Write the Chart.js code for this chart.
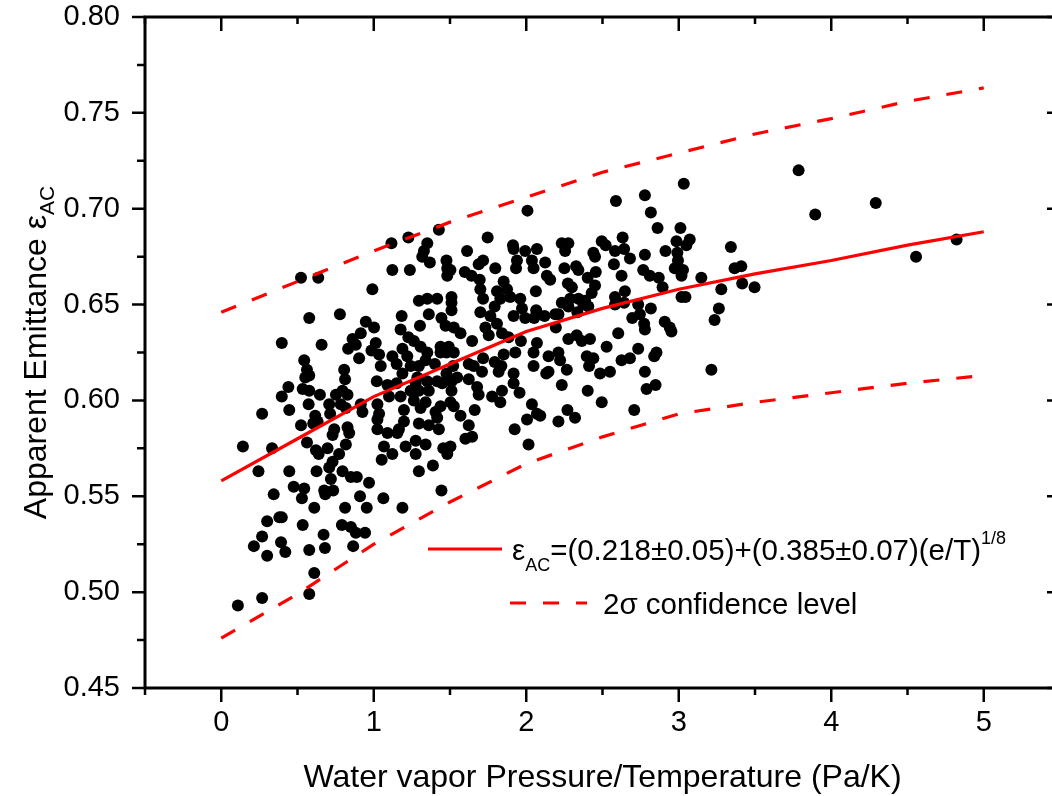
<!DOCTYPE html>
<html>
<head>
<meta charset="utf-8">
<script src="https://cdn.jsdelivr.net/npm/chart.js@4.4.1/dist/chart.umd.min.js"></script>
<style>
  html, body { margin: 0; padding: 0; background: #fff; overflow: hidden; }
  canvas { display: block; }
</style>
</head>
<body>
<canvas id="emitancia_grafica" width="1075" height="796"></canvas>
<script>
// ejes
const xTicks = [0, 1, 2, 3, 4, 5];
const xMenores = [-0.5, 0.5, 1.5, 2.5, 3.5, 4.5, 5.5];
const yTicks = [0.45, 0.50, 0.55, 0.60, 0.65, 0.70, 0.75, 0.80];
const yMenores = [0.475, 0.525, 0.575, 0.625, 0.675, 0.725, 0.775];

// ajuste y bandas de 2 sigma
const ajusteX = [0, 0.5, 1, 1.5, 2, 2.5, 3, 3.5, 4, 4.5, 5];
const ajusteY = [0.558, 0.580, 0.602, 0.619, 0.636, 0.648, 0.658, 0.666, 0.673, 0.681, 0.688];
const limiteSupY = [0.646, 0.662, 0.678, 0.693, 0.706, 0.719, 0.729, 0.739, 0.747, 0.756, 0.763];
const limiteInfY = [0.476, 0.499, 0.525, 0.547, 0.567, 0.581, 0.593, 0.599, 0.604, 0.609, 0.613];

// mediciones (e/T, emitancia)
const puntos = [
  [0.523,0.664],[0.636,0.664],[0.991,0.658],[0.577,0.643],[0.778,0.645],[0.397,0.630],[0.658,0.629],[0.948,0.641],
  [0.915,0.635],[0.861,0.632],[0.832,0.627],[0.882,0.629],[0.904,0.622],[0.985,0.626],[0.544,0.621],[0.562,0.616],
  [0.551,0.612],[0.577,0.613],[0.440,0.607],[0.397,0.602],[0.534,0.606],[0.577,0.605],[0.647,0.603],[0.806,0.616],
  [0.812,0.611],[0.795,0.605],[0.752,0.603],[0.828,0.603],[0.446,0.595],[0.268,0.593],[0.573,0.598],[0.708,0.598],
  [0.784,0.598],[0.817,0.596],[0.915,0.598],[0.926,0.594],[0.616,0.592],[0.714,0.593],[0.523,0.587],[0.603,0.588],
  [0.632,0.589],[0.828,0.586],[0.839,0.583],[0.741,0.585],[0.730,0.582],[0.142,0.576],[0.333,0.575],[0.562,0.578],
  [0.817,0.577],[0.621,0.574],[0.697,0.575],[0.639,0.572],[0.773,0.572],[0.730,0.568],[0.708,0.565],[0.244,0.563],
  [0.446,0.563],[0.625,0.563],[0.719,0.559],[0.795,0.563],[0.850,0.560],[0.889,0.560],[0.969,0.557],[0.475,0.555],
  [0.544,0.554],[0.529,0.549],[0.675,0.553],[0.682,0.551],[0.734,0.553],[0.344,0.551],[0.910,0.550],[0.610,0.544],
  [0.812,0.544],[0.954,0.544],[0.301,0.537],[0.381,0.539],[0.397,0.539],[0.534,0.535],[0.791,0.535],[0.850,0.534],
  [0.882,0.531],[0.943,0.531],[0.268,0.529],[0.671,0.530],[0.392,0.526],[0.214,0.524],[0.420,0.521],[0.301,0.519],
  [0.577,0.522],[0.680,0.523],[0.865,0.524],[0.610,0.510],[0.268,0.497],[0.577,0.499],[0.109,0.493],

  [2.008,0.699],[1.747,0.685],[1.427,0.689],[1.116,0.682],[1.227,0.685],[1.351,0.682],[1.329,0.678],[1.318,0.675],
  [1.368,0.672],[1.612,0.678],[1.913,0.681],[1.993,0.678],[1.917,0.679],[2.070,0.679],[1.939,0.673],[2.037,0.673],
  [1.933,0.669],[2.048,0.669],[1.717,0.673],[1.688,0.671],[1.797,0.669],[1.477,0.673],[1.482,0.669],[1.503,0.668],
  [1.482,0.665],[1.122,0.668],[1.237,0.668],[1.597,0.667],[1.641,0.665],[1.695,0.663],[1.699,0.658],[1.717,0.653],
  [1.852,0.662],[1.874,0.658],[1.808,0.657],[1.830,0.653],[1.895,0.654],[1.961,0.653],[2.063,0.657],
  [2.065,0.647],[1.793,0.649],[1.699,0.646],[1.296,0.652],[1.351,0.653],[1.416,0.653],[1.510,0.654],[1.510,0.651],
  [1.510,0.647],[1.361,0.645],[1.183,0.644],[1.444,0.643],[1.471,0.639],[1.765,0.644],[1.808,0.640],[1.917,0.644],
  [1.972,0.648],[1.993,0.643],[2.052,0.643],[1.303,0.639],[1.176,0.637],[1.002,0.638],[1.525,0.638],[1.569,0.635],
  [1.732,0.638],[1.754,0.634],[1.841,0.635],[1.884,0.633],[1.965,0.631],[1.227,0.633],[1.263,0.631],[1.013,0.630],
  [1.307,0.628],[1.351,0.625],[1.188,0.627],[1.645,0.631],[1.438,0.628],[1.492,0.628],[1.438,0.625],[1.477,0.625],
  [1.525,0.625],[1.717,0.622],[1.793,0.620],[1.852,0.624],[1.928,0.625],[2.048,0.625],[1.035,0.624],[1.122,0.623],
  [1.220,0.623],[1.340,0.621],[1.046,0.618],[1.150,0.619],[1.242,0.618],[1.296,0.618],[1.401,0.619],[1.521,0.618],
  [1.623,0.619],[1.656,0.618],[1.837,0.618],[2.048,0.618],[1.020,0.610],[1.188,0.614],[1.286,0.612],[1.477,0.614],
  [1.547,0.612],[1.710,0.615],[1.819,0.615],[1.917,0.614],[1.090,0.608],[1.150,0.609],[1.275,0.609],[1.351,0.610],
  [1.416,0.610],[1.449,0.609],[1.510,0.610],[1.623,0.611],[1.242,0.605],[1.296,0.605],[1.361,0.605],[1.510,0.605],
  [1.678,0.607],[1.917,0.609],[1.841,0.605],[1.776,0.602],[1.956,0.604],[1.176,0.602],[1.263,0.600],[1.340,0.599],
  [1.100,0.602],[1.688,0.603],[1.503,0.599],[1.830,0.599],[1.024,0.598],[1.035,0.593],[1.438,0.597],[1.525,0.597],
  [1.198,0.595],[1.307,0.596],[1.405,0.594],[1.662,0.595],[1.569,0.592],[2.037,0.598],[2.070,0.593],[2.005,0.590],
  [1.024,0.590],[1.198,0.589],[1.296,0.588],[1.361,0.587],[1.416,0.591],[1.623,0.587],[1.165,0.585],[1.024,0.585],
  [1.427,0.585],[1.090,0.583],[1.155,0.583],[1.924,0.585],[1.275,0.579],[1.209,0.576],[1.340,0.577],[1.503,0.576],
  [1.456,0.575],[1.601,0.580],[1.645,0.581],[1.067,0.576],[1.122,0.572],[1.275,0.572],[1.482,0.572],[2.015,0.577],
  [1.052,0.569],[1.388,0.566],[1.296,0.563],[1.444,0.553],[1.063,0.549],[1.188,0.544],

  [3.033,0.713],[2.588,0.704],[2.778,0.707],[2.817,0.698],[2.861,0.690],[3.011,0.690],[2.985,0.683],[3.072,0.684],
  [3.050,0.681],[2.495,0.683],[2.521,0.681],[2.632,0.685],[2.582,0.678],[2.642,0.679],[2.680,0.674],[2.778,0.676],
  [2.913,0.678],[2.991,0.677],[2.995,0.673],[2.233,0.682],[2.276,0.682],[2.255,0.678],[2.440,0.677],
  [2.451,0.675],[2.124,0.672],[2.250,0.669],[2.327,0.670],[2.342,0.668],[2.575,0.671],[2.974,0.669],[3.028,0.668],
  [3.018,0.665],[3.148,0.664],[2.767,0.668],[2.810,0.665],[2.869,0.664],[2.894,0.659],[2.625,0.665],[2.456,0.667],
  [2.403,0.664],[2.135,0.665],[2.157,0.663],[2.273,0.661],[2.299,0.659],[2.451,0.660],[2.429,0.656],
  [2.647,0.657],[2.582,0.654],[3.018,0.654],[3.044,0.654],[2.288,0.653],[2.233,0.651],[2.342,0.653],[2.386,0.652],
  [2.276,0.649],[2.375,0.650],[2.407,0.649],[2.582,0.650],[2.642,0.651],[2.734,0.650],[2.335,0.646],
  [2.120,0.644],[2.190,0.645],[2.211,0.645],[2.745,0.645],[2.817,0.648],[2.695,0.643],[2.773,0.640],[2.778,0.637],
  [2.908,0.641],[2.952,0.636],[2.941,0.638],[2.194,0.638],[2.603,0.635],[2.276,0.632],[2.331,0.634],[2.364,0.631],
  [2.418,0.632],[2.527,0.628],[2.070,0.630],[2.146,0.623],[2.211,0.625],[2.222,0.621],[2.397,0.623],
  [2.440,0.622],[2.412,0.618],[2.625,0.621],[2.680,0.622],[2.734,0.627],[2.854,0.625],[2.839,0.623],
  [2.146,0.615],[2.266,0.616],[2.131,0.614],[2.484,0.614],[2.549,0.615],[2.778,0.615],[2.233,0.608],[2.403,0.605],
  [2.789,0.606],[2.848,0.608],[2.495,0.599],[2.708,0.595],[2.092,0.592],[2.270,0.595],[2.320,0.591],[2.211,0.589],

  [3.786,0.720],[3.895,0.697],[4.292,0.703],[4.822,0.684],[4.556,0.675],[3.342,0.680],[3.366,0.669],[3.410,0.670],
  [3.416,0.661],[3.497,0.659],[3.279,0.658],[3.263,0.648],[3.235,0.642],[3.214,0.616]
];

const fuente = '"Liberation Sans", Arial, sans-serif';
const rojo = '#ff0000';

// texto con subindices / superindices
function textoCompuesto(ctx, partes, x, y, centrado) {
  let ancho = 0;
  partes.forEach(p => { ctx.font = p.size + 'px ' + fuente; ancho += ctx.measureText(p.t).width; });
  let cx = centrado ? x - ancho / 2 : x;
  partes.forEach(p => {
    ctx.font = p.size + 'px ' + fuente;
    ctx.fillText(p.t, cx, y + (p.dy || 0));
    cx += ctx.measureText(p.t).width;
  });
}

const marco = {
  id: 'marco',
  afterDraw(chart) {
    const { ctx, chartArea: a, scales: { x, y } } = chart;
    ctx.save();
    ctx.strokeStyle = '#000';
    ctx.lineWidth = 2.5;
    ctx.beginPath();
    xTicks.forEach(v => {
      const p = x.getPixelForValue(v);
      ctx.moveTo(p, a.bottom); ctx.lineTo(p, a.bottom + 14);
      ctx.moveTo(p, a.top); ctx.lineTo(p, a.top + 14);
    });
    xMenores.forEach(v => {
      const p = x.getPixelForValue(v);
      ctx.moveTo(p, a.bottom); ctx.lineTo(p, a.bottom + 7);
      ctx.moveTo(p, a.top); ctx.lineTo(p, a.top + 7);
    });
    yTicks.forEach(v => {
      const p = y.getPixelForValue(v);
      ctx.moveTo(a.left, p); ctx.lineTo(a.left - 13, p);
      ctx.moveTo(a.right, p); ctx.lineTo(a.right - 13, p);
    });
    yMenores.forEach(v => {
      const p = y.getPixelForValue(v);
      ctx.moveTo(a.left, p); ctx.lineTo(a.left - 8, p);
      ctx.moveTo(a.right, p); ctx.lineTo(a.right - 8, p);
    });
    ctx.stroke();
    ctx.lineWidth = 3;
    ctx.strokeRect(a.left, a.top, a.right - a.left, a.bottom - a.top);

    // titulos de ejes
    ctx.fillStyle = '#000';
    ctx.textBaseline = 'alphabetic';
    ctx.textAlign = 'left';
    textoCompuesto(ctx, [{ t: 'Water vapor Pressure/Temperature (Pa/K)', size: 32 }], (a.left + a.right) / 2, 787, true);
    ctx.save();
    ctx.translate(46, (a.top + a.bottom) / 2);
    ctx.rotate(-Math.PI / 2);
    textoCompuesto(ctx, [
      { t: 'Apparent Emittance \u03b5', size: 32 },
      { t: 'AC', size: 21, dy: 8 }
    ], 0, 0, true);
    ctx.restore();

    // leyenda
    ctx.strokeStyle = rojo;
    ctx.lineWidth = 3;
    ctx.beginPath();
    ctx.moveTo(428, 549); ctx.lineTo(502, 549);
    ctx.stroke();
    ctx.setLineDash([16, 17]);
    ctx.beginPath();
    ctx.moveTo(510, 603); ctx.lineTo(587, 603);
    ctx.stroke();
    ctx.setLineDash([]);
    textoCompuesto(ctx, [
      { t: '\u03b5', size: 29.5 },
      { t: 'AC', size: 18, dy: 11 },
      { t: '=(0.218\u00b10.05)+(0.385\u00b10.07)(e/T)', size: 29.5 },
      { t: '1/8', size: 18, dy: -16 }
    ], 512, 560, false);
    textoCompuesto(ctx, [{ t: '2\u03c3 confidence level', size: 29.5 }], 603, 614, false);
    ctx.restore();
  }
};

const lineaBase = { type: 'line', borderColor: rojo, borderWidth: 3.2, pointRadius: 0, fill: false, tension: 0, order: 0 };

// sin relleno automatico alrededor de los ejes
const sinRelleno = s => { s.paddingTop = 0; s.paddingBottom = 0; s.paddingLeft = 0; s.paddingRight = 0; };

new Chart(document.getElementById('emitancia_grafica').getContext('2d'), {
  type: 'scatter',
  data: {
    datasets: [
      { ...lineaBase, label: 'ajuste', data: ajusteX.map((x, i) => ({ x, y: ajusteY[i] })) },
      { ...lineaBase, label: 'sup', borderDash: [16, 17], data: ajusteX.map((x, i) => ({ x, y: limiteSupY[i] })) },
      { ...lineaBase, label: 'inf', borderDash: [16, 17], data: ajusteX.map((x, i) => ({ x, y: limiteInfY[i] })) },
      {
        label: 'datos',
        data: puntos.map(([x, y]) => ({ x, y })),
        backgroundColor: '#000',
        borderWidth: 0,
        pointRadius: 6,
        order: 1
      }
    ]
  },
  options: {
    responsive: false,
    animation: false,
    layout: { padding: { left: 0, top: 17, right: 15, bottom: 0 } },
    plugins: { legend: { display: false }, tooltip: { enabled: false } },
    scales: {
      x: {
        type: 'linear',
        min: -0.5,
        max: 5.5,
        afterBuildTicks: s => { s.ticks = xTicks.map(v => ({ value: v })); },
        afterFit: s => { s.height = 108; sinRelleno(s); },
        grid: { display: false, drawTicks: true, tickLength: 14 },
        border: { display: false },
        ticks: { padding: 4, color: '#000', maxRotation: 0, autoSkip: false, font: { family: fuente, size: 29 }, callback: v => String(v) }
      },
      y: {
        min: 0.45,
        max: 0.80,
        afterBuildTicks: s => { s.ticks = yTicks.map(v => ({ value: v })); },
        afterFit: s => { s.width = 145; sinRelleno(s); },
        grid: { display: false, drawTicks: true, tickLength: 13 },
        border: { display: false },
        ticks: { padding: 12, color: '#000', autoSkip: false, font: { family: fuente, size: 29 }, callback: v => v.toFixed(2) }
      }
    }
  },
  plugins: [marco]
});
</script>
</body>
</html>
